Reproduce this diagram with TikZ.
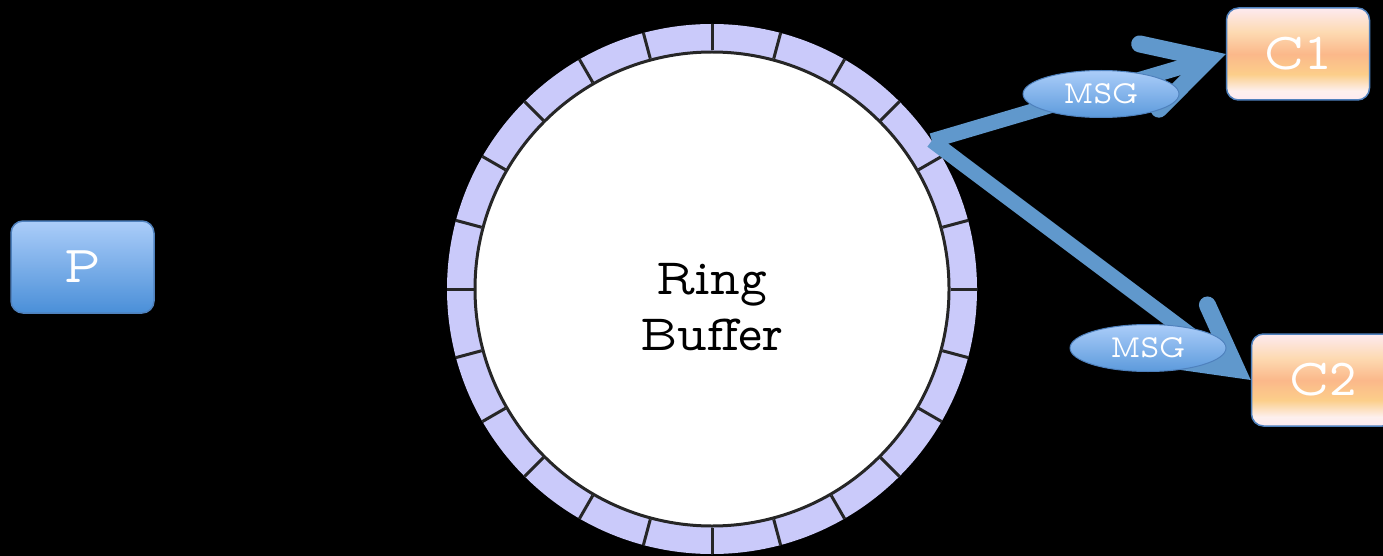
\documentclass[tikz,border=0pt]{standalone}
\usetikzlibrary{arrows.meta,positioning,shapes.geometric}
\definecolor{prodtop}{RGB}{171,205,249}
\definecolor{prodbot}{RGB}{74,143,216}
\definecolor{edgecol}{RGB}{79,129,189}
\definecolor{flowcol}{RGB}{96,152,204}
\definecolor{slotcol}{RGB}{202,202,250}
\definecolor{conspale}{RGB}{253,234,240}
\definecolor{conspeach}{RGB}{253,218,178}
\definecolor{consorange}{RGB}{251,184,138}
\definecolor{consyellow}{RGB}{252,206,138}
\definecolor{conslight}{RGB}{253,240,238}
\pgfdeclareverticalshading{consshade}{100bp}{color(0bp)=(conspale); color(25bp)=(conspale); color(30bp)=(conslight); color(39bp)=(consyellow); color(50bp)=(consorange); color(62bp)=(conspeach); color(75bp)=(conspale); color(100bp)=(conspale)}
\newcommand{\tw}{\fontfamily{lmvtt}\selectfont}

\begin{document}
\begin{tikzpicture}[
    x=1pt, y=-1pt,
    box/.style={rectangle, rounded corners=12pt, minimum width=143pt, minimum height=92pt, draw=edgecol, line width=1.5pt, text=white, font=\tw\fontsize{52}{56}\selectfont},
    prod/.style={box, top color=prodtop, bottom color=prodbot},
    cons/.style={box, shading=consshade},
    msg/.style={ellipse, minimum width=156pt, minimum height=47pt, inner sep=0pt, draw=edgecol, line width=1pt, top color=prodtop, bottom color=prodbot!90, text=white, font=\tw\fontsize{32}{34}\selectfont},
    flow/.style={draw=flowcol, line width=15pt, -{Straight Barb[length=62pt, width=68pt, line width=17pt, line cap=round]}},
    slot/.style={line width=3pt, draw=black!85},
]
\useasboundingbox (0,0) rectangle (1383,556);
\fill[black] (0,0) rectangle (1383,556);

\node[circle, minimum size=530pt, fill=slotcol, inner sep=0pt] (rim) at (712,289) {};
\node[circle, minimum size=474pt, fill=white, draw=black!85, line width=3pt, inner sep=0pt] (ring) at (712,289) {};
\foreach \a in {0,15,...,345}
    \draw[slot] (ring.\a) -- (rim.\a);
\node[align=center, font=\tw\fontsize{51}{56}\selectfont] (ringtxt) at (712,307) {Ring\\Buffer};

\node[prod] (p) at (82.5,267) {P};
\node[cons] (c1) at (1298,54) {C1};
\node[cons] (c2) at (1323,380) {C2};

\coordinate (src) at (rim.34);
\draw[flow] (src) -- (c1.west);
\draw[flow] (src) -- (c2.west);

\node[msg] (msg1) at (1101,94) {MSG};
\node[msg] (msg2) at (1148,348) {MSG};
\end{tikzpicture}
\end{document}
